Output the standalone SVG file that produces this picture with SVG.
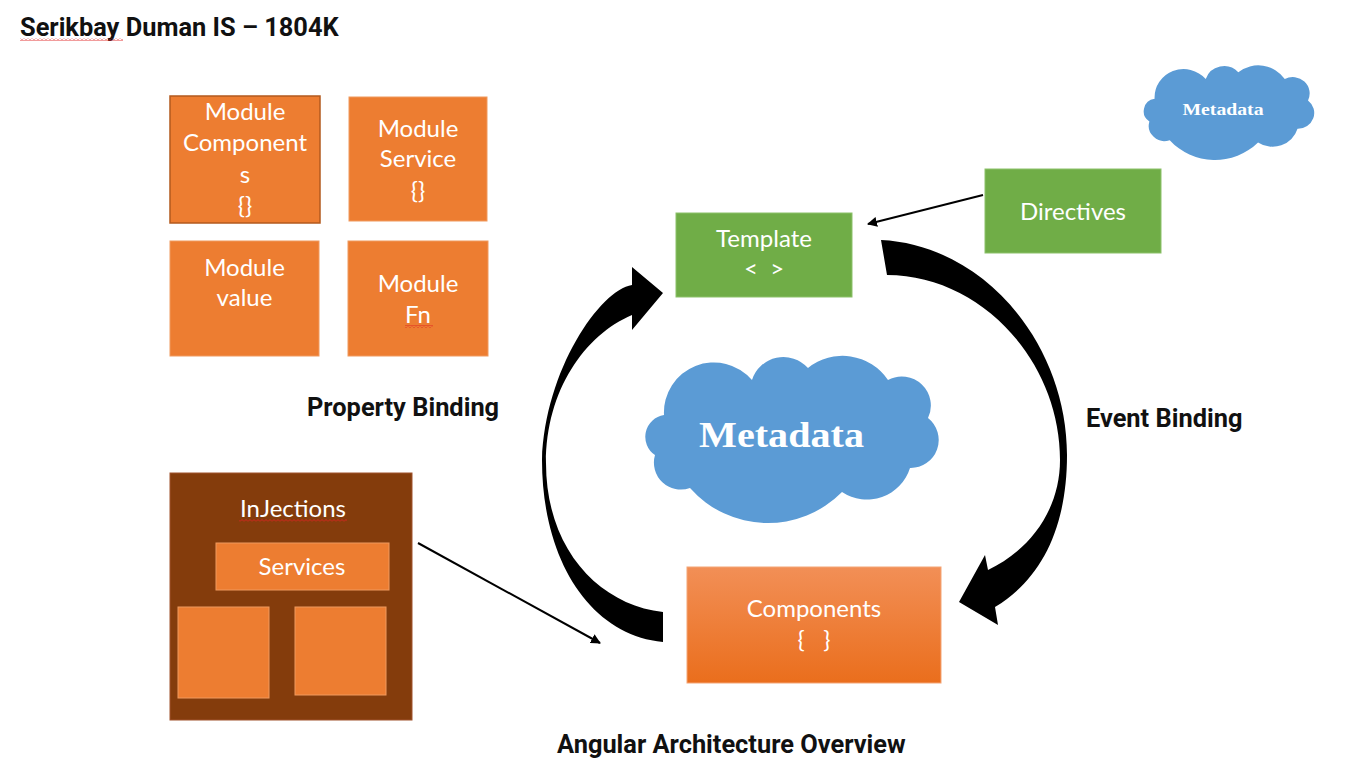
<svg xmlns="http://www.w3.org/2000/svg" width="1365" height="769" viewBox="0 0 1365 769">
<style>
.lbl{font-family:Roboto,"Liberation Sans",sans-serif;font-weight:700;font-size:25.4px;fill:#111}
.bx{font-family:Lato,"Liberation Sans",sans-serif;font-size:24px;fill:#fff;text-anchor:middle}
.org{fill:#ED7D31;stroke:#F09A5E;stroke-width:1}
.grn{fill:#70AD47;stroke:#8CC16A;stroke-width:1}
.cloud{fill:#5B9BD5}
.meta{font-family:"Liberation Serif","DejaVu Serif",serif;font-weight:700;fill:#fff;text-anchor:middle}
.curve{fill:#000}
.thin{stroke:#000;stroke-width:2;fill:none;marker-end:url(#ah)}
</style>
<defs>
<marker id="ah" viewBox="0 0 10 10" refX="9" refY="5" markerWidth="5" markerHeight="5" orient="auto" markerUnits="strokeWidth">
<path d="M0,0 L10,5 L0,10 Z" fill="#000"/>
</marker>
<linearGradient id="cg" x1="0" y1="0" x2="0" y2="1">
<stop offset="0" stop-color="#F28F56"/>
<stop offset="1" stop-color="#EA6E1C"/>
</linearGradient>
<pattern id="sq" width="4" height="3" patternUnits="userSpaceOnUse">
<path d="M0,2.5 L2,0.5 L4,2.5" stroke="#E02020" stroke-width="0.9" fill="none"/>
</pattern>
<path id="cloudShape" d="M20,58 A50,50 0 0 1 108,23 A33,33 0 0 1 164,11 A55,55 0 0 1 244,23 A29,29 0 0 1 284,61 A28,28 0 0 1 266,111 A45,45 0 0 1 198,135 A104,104 0 0 1 46,131 A27,27 0 0 1 11,98 A22,22 0 0 1 20,58 Z"/>
</defs>
<rect width="1365" height="769" fill="#fff"/>

<g id="title">
<text class="lbl" x="20" y="36" font-size="24.3">Serikbay Duman IS – 1804K</text>
<rect x="20" y="38" width="103" height="3" fill="url(#sq)"/>
</g>

<g id="module-components">
<rect x="170" y="96" width="150" height="127" fill="#ED7D31" stroke="#B35A1E" stroke-width="1.5"/>
<text class="bx" x="245" y="120">Module</text>
<text class="bx" x="245" y="151">Component</text>
<text class="bx" x="245" y="183">s</text>
<text class="bx" x="245" y="214">{}</text>
</g>
<g id="module-service">
<rect class="org" x="349" y="97" width="138" height="124"/>
<text class="bx" x="418" y="137">Module</text>
<text class="bx" x="418" y="167">Service</text>
<text class="bx" x="418" y="199">{}</text>
</g>
<g id="module-value">
<rect class="org" x="170" y="241" width="149" height="115"/>
<text class="bx" x="244.5" y="276">Module</text>
<text class="bx" x="244.5" y="306">value</text>
</g>
<g id="module-fn">
<rect class="org" x="348" y="241" width="140" height="115"/>
<text class="bx" x="418" y="292">Module</text>
<text class="bx" x="418" y="323">Fn</text>
<rect x="405" y="325" width="28" height="3" fill="url(#sq)"/>
</g>

<g id="template">
<rect class="grn" x="676" y="213" width="176" height="84"/>
<text class="bx" x="764" y="247">Template</text>
<text class="bx" x="764" y="277" xml:space="preserve">&lt;  &gt;</text>
</g>
<g id="directives">
<rect class="grn" x="985" y="169" width="176" height="84"/>
<text class="bx" x="1073" y="220">Directives</text>
</g>
<g id="metadata-small">
<use href="#cloudShape" class="cloud" transform="translate(1143,66) scale(0.581,0.566)"/>
<text class="meta" x="1223" y="115" font-size="17" textLength="81" lengthAdjust="spacingAndGlyphs">Metadata</text>
</g>
<g id="metadata-big">
<use href="#cloudShape" class="cloud" transform="translate(644,357)"/>
<text class="meta" x="781.5" y="447" font-size="35" textLength="165" lengthAdjust="spacingAndGlyphs">Metadata</text>
</g>
<g id="components">
<rect x="687" y="567" width="254" height="116" fill="url(#cg)" stroke="#F4A577" stroke-width="1"/>
<text class="bx" x="814" y="617">Components</text>
<text class="bx" x="814" y="648" xml:space="preserve">{   }</text>
</g>
<g id="injections">
<rect x="170" y="473" width="242" height="247" fill="#843C0C" stroke="#A0522D" stroke-width="1"/>
<text class="bx" x="293" y="517">InJections</text>
<rect x="239" y="519" width="108" height="3" fill="url(#sq)"/>
<rect class="org" x="216" y="543" width="173" height="47"/>
<text class="bx" x="302" y="575">Services</text>
<rect class="org" x="178" y="607" width="91" height="91"/>
<rect class="org" x="295" y="607" width="91" height="88"/>
</g>

<g id="labels">
<text class="lbl" x="307" y="416">Property Binding</text>
<text class="lbl" x="1086" y="427">Event Binding</text>
<text class="lbl" x="557" y="753" font-size="26.4">Angular Architecture Overview</text>
</g>

<g id="connectors">
<path class="curve" d="M663,642 C590,635 542,560 542,460 C545,370 600,290 632,285 L632,267 L663,293 L632,330 L632,315 C585,335 546,390 546,463 C546,550 600,605 663,612 Z"/>
<path class="curve" d="M881,240 C985,245 1067,345 1067,455 C1067,530 1040,580 995,607 L998,625 L959,602 L985,555 L988,570 C1030,550 1060,510 1060,460 C1060,360 980,275 887,275 Z"/>
<line class="thin" x1="418" y1="543" x2="600" y2="643"/>
<line class="thin" x1="983" y1="195" x2="868" y2="224"/>
</g>
</svg>
